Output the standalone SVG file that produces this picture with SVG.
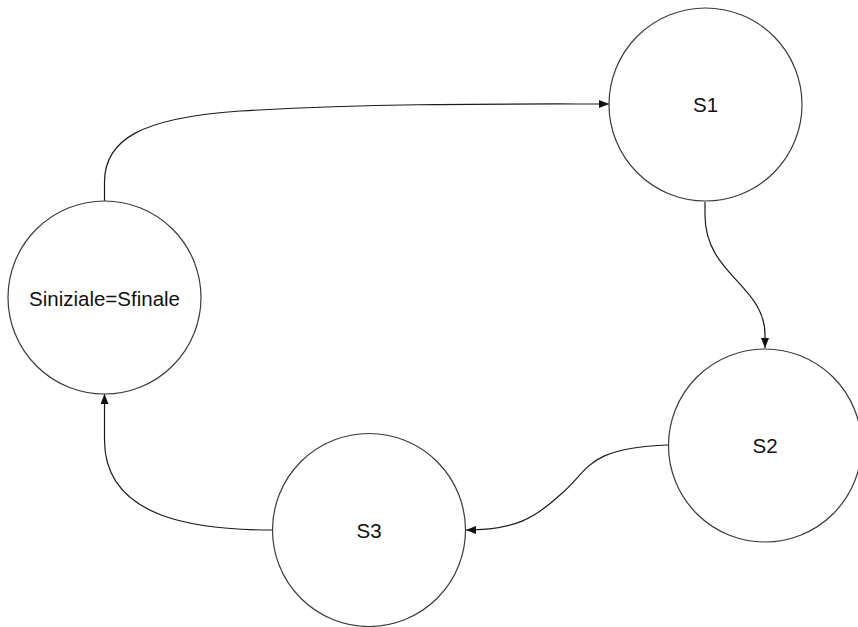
<svg xmlns="http://www.w3.org/2000/svg" width="858" height="627" viewBox="0 0 858 627">
  <style>
    .state { fill: #ffffff; stroke: #3a3a3a; stroke-width: 1.2; }
    .label { font-family: "Liberation Sans", Arial, sans-serif; font-size: 20.5px; fill: #111111; text-anchor: middle; }
    .edge { fill: none; stroke: #1a1a1a; stroke-width: 1.2; marker-end: url(#arrow); }
  </style>
  <defs>
    <marker id="arrow" viewBox="0 0 10 8" refX="10" refY="4" markerWidth="10" markerHeight="8" markerUnits="userSpaceOnUse" orient="auto">
      <path d="M0,0 L10,4 L0,8 Z" fill="#111111"/>
    </marker>
  </defs>
  <rect width="858" height="627" fill="#ffffff"/>

  <g id="connectors">
    <!-- Siniziale=Sfinale -> S1 -->
    <path class="edge" d="M104.5,201 L104.5,182 C104.5,140 140,118 240,111 C380,103 500,104 609,104"/>
    <!-- S1 -> S2 -->
    <path class="edge" d="M705,202 L705,215 C705,275 765,285 765,335 L765,348"/>
    <!-- S2 -> S3 -->
    <path class="edge" d="M668,445 C585,448 590,470 560,495 C535,518 515,530 466,530"/>
    <!-- S3 -> Siniziale=Sfinale -->
    <path class="edge" d="M272,530 C200,530 104.5,520 104.5,440 L104.5,394"/>
  </g>

  <g id="node-sinit">
    <circle class="state" cx="104.5" cy="297.5" r="96.5"/>
    <text class="label" x="104.5" y="306">Siniziale=Sfinale</text>
  </g>
  <g id="node-s1">
    <circle class="state" cx="705.5" cy="104.5" r="96.5"/>
    <text class="label" x="705.5" y="112">S1</text>
  </g>
  <g id="node-s2">
    <circle class="state" cx="765" cy="445.5" r="96.5"/>
    <text class="label" x="765" y="453">S2</text>
  </g>
  <g id="node-s3">
    <circle class="state" cx="369" cy="530" r="96.5"/>
    <text class="label" x="369" y="538">S3</text>
  </g>
</svg>
